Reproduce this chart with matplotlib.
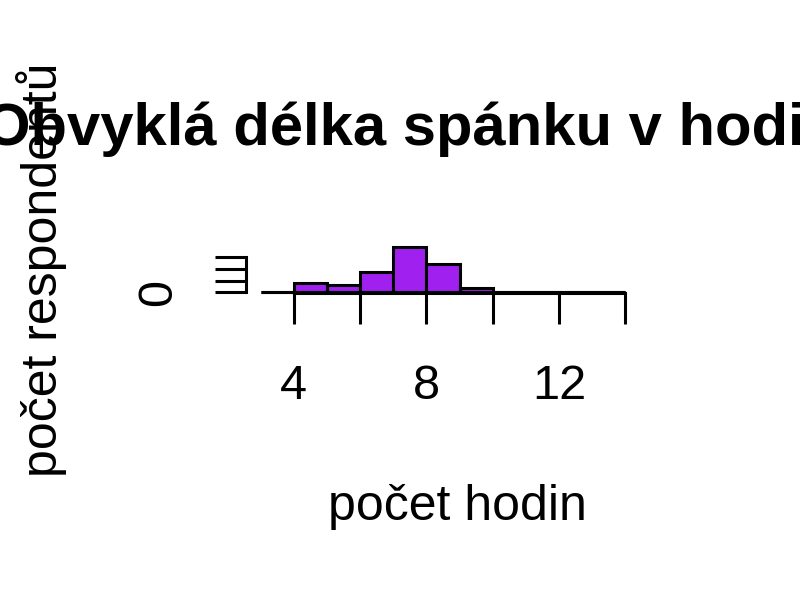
import matplotlib
matplotlib.use("Agg")
import matplotlib.pyplot as plt

plt.rcParams['font.family'] = ['Liberation Sans', 'DejaVu Sans']

# histogram of usual sleep length, 1-hour bins from 3 to 14
bin_edges = [3, 4, 5, 6, 7, 8, 9, 10, 11, 12, 13, 14]
counts = [0, 8, 6, 17, 38, 24, 4, 0, 0, 0, 0]
x_ticks = [4, 6, 8, 10, 12, 14]
x_ticklabels = ['4', '', '8', '', '12', '']
y_ticks = [0, 10, 20, 30]
y_ticklabels = ['0', '', '', '']

title = "Obvyklá délka spánku v hodinách"
xlab = "počet hodin"
ylab = "počet respondentů"

W, H = 800, 600
fig = plt.figure(figsize=(8, 6), dpi=100)
# tiny plot region, as in the original (huge margins)
ax = fig.add_axes([246 / W, (H - 293.3) / H, (640 - 246) / W, 47.6 / H])
ax.patch.set_alpha(0)

ax.bar(bin_edges[:-1], counts, width=1, align='edge', color='#A020F0',
       edgecolor='black', linewidth=2.2, clip_on=False)
# empty bins show up as a flat line along zero
ax.hlines(0, bin_edges[0], bin_edges[-1], color='black', linewidth=2.2,
          clip_on=False)

ax.set_xlim(2.56, 14.44)
ax.set_ylim(-0.8, 39.52)

for s in ['top', 'right']:
    ax.spines[s].set_visible(False)
for s in ['left', 'bottom']:
    ax.spines[s].set_linewidth(2.2)
ax.spines['bottom'].set_bounds(4, 14)
ax.spines['left'].set_bounds(0, 30)

ax.set_xticks(x_ticks)
ax.set_xticklabels(x_ticklabels, fontsize=35)
ax.set_yticks(y_ticks)
ax.set_yticklabels(y_ticklabels, fontsize=35, rotation=90, va='center')
ax.tick_params(axis='both', length=22.5, width=2.2)
ax.tick_params(axis='x', pad=28.5)
ax.tick_params(axis='y', pad=24)

fig.text(464 / W, (H - 145) / H, title, fontsize=43, fontweight='bold',
         ha='center', va='baseline')
fig.text(457 / W, (H - 520) / H, xlab, fontsize=36, ha='center', va='baseline')
fig.text(42 / W, (H - 270) / H, ylab, fontsize=36, rotation=90,
         ha='center', va='center')

fig.savefig("out.png", dpi=100)
